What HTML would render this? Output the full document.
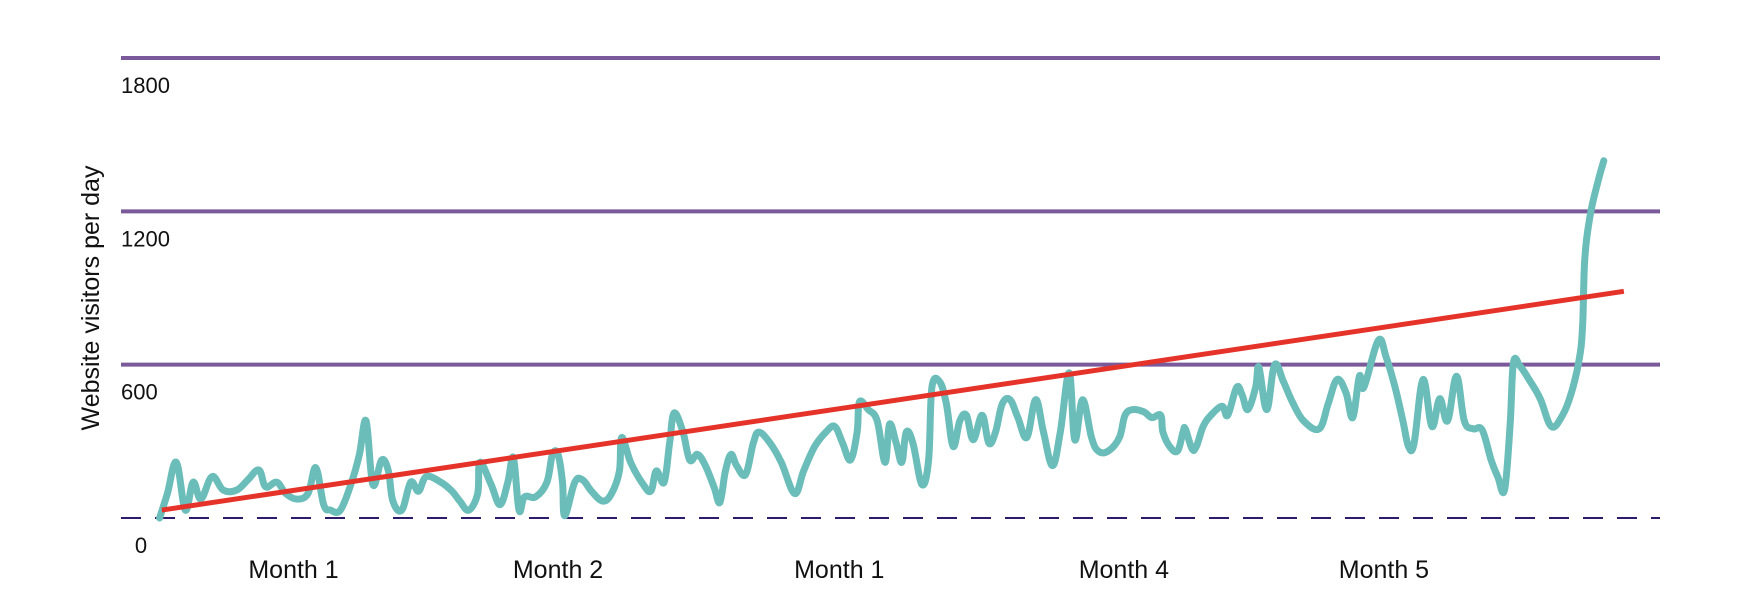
<!DOCTYPE html>
<html><head><meta charset="utf-8"><style>
html,body{margin:0;padding:0;background:#fff;width:1750px;height:610px;overflow:hidden}
svg{display:block;font-family:"Liberation Sans",sans-serif}
</style></head><body>
<svg id="chart" width="1750" height="610" viewBox="0 0 1750 610" xmlns="http://www.w3.org/2000/svg">
<g id="grid"></g>
<g id="ylabels"></g>
<g id="xlabels"></g>
<text transform="translate(99,298) rotate(-90)" text-anchor="middle" font-size="25" fill="#111">Website visitors per day</text>
<g id="series"></g>
</svg>
<script>
const yTicks=[0,600,1200,1800];
const yTickLabels=["0","600","1200","1800"];
const monthPos=[263,500,752,1007,1240];
const monthLabels=["Month 1","Month 2","Month 1","Month 4","Month 5"];
const t=[143,150,158,166,173,180,190,200,212,222,232,238,248,256,266,276,283,290,296,305,315,322,328,334,342,348,352,360,368,375,382,395,405,412,420,428,430,440,448,455,460,465,470,480,490,495,500,504,506,515,522,530,540,548,555,557,565,575,583,588,595,600,604,612,618,625,632,640,645,650,655,660,668,675,680,690,700,712,720,730,740,748,755,762,768,770,778,786,793,797,803,808,812,818,826,832,835,842,848,854,860,866,872,880,886,892,898,905,912,920,928,935,943,950,958,963,970,978,984,993,1003,1008,1015,1025,1032,1040,1042,1048,1055,1060,1062,1068,1072,1078,1085,1095,1100,1108,1113,1118,1125,1128,1135,1142,1150,1158,1168,1182,1190,1198,1206,1212,1218,1222,1235,1242,1250,1257,1262,1267,1275,1283,1290,1297,1305,1312,1320,1328,1336,1342,1348,1353,1356,1362,1370,1380,1390,1400,1408,1415,1418,1420,1425,1432,1437];
const visitors=[0,96,218,31,140,74,162,109,109,149,188,122,140,96,74,96,197,52,31,31,140,249,380,131,227,184,66,31,140,105,162,140,105,66,31,96,218,131,52,140,236,31,83,83,140,249,249,140,9,140,149,105,66,96,184,315,218,140,105,184,140,293,411,336,227,249,205,118,61,184,249,205,170,293,336,293,218,96,184,280,336,358,293,227,336,454,424,380,218,367,293,218,336,293,131,227,511,533,446,280,380,402,306,402,293,336,446,463,393,315,463,336,205,336,568,306,463,315,262,262,315,402,424,415,393,402,336,280,262,336,349,271,280,358,402,437,402,511,481,424,511,590,424,599,533,454,380,349,446,542,490,393,555,511,695,629,511,380,280,293,542,358,467,380,555,380,349,345,227,161,109,358,607,594,542,467,358,402,490,621,752,1014,1189,1320,1398];
const trendT=[145,1455];
const trendV=[31,887];
const NS="http://www.w3.org/2000/svg";
const xs=v=>v*1750/1568;
const ys=v=>518-v*(460/1800);
function mk(tag,at,parent){const e=document.createElementNS(NS,tag);for(const k in at)e.setAttribute(k,at[k]);parent.appendChild(e);return e;}
const grid=document.getElementById('grid'),yl=document.getElementById('ylabels'),xl=document.getElementById('xlabels'),se=document.getElementById('series');
yTicks.forEach((v,i)=>{
  let l;
  if(v===0){l=mk('line',{x1:121,x2:1660,y1:ys(v),y2:ys(v),stroke:'#2e1a6b','stroke-width':2,'stroke-dasharray':'20 14'},grid);}
  else{l=mk('line',{x1:121,x2:1660,y1:ys(v),y2:ys(v),stroke:'#7a5a9a','stroke-width':4},grid);}
  
  
  const tx=mk('text',{x:v===0?141:121,y:ys(v)+35,'font-size':22,fill:'#111','text-anchor':v===0?'middle':'start'},yl);
  tx.textContent=yTickLabels[i];
  
  
});
monthLabels.forEach((m,i)=>{
  const tx=mk('text',{x:xs(monthPos[i]),y:578,'font-size':25,fill:'#111','text-anchor':'middle'},xl);
  tx.textContent=m;
  
  
});
const pts=t.map((tt,i)=>[xs(tt),ys(visitors[i])]);
let d='M'+pts[0][0].toFixed(1)+','+pts[0][1].toFixed(1);
const k=0.18;
for(let i=0;i<pts.length-1;i++){
  const p0=pts[Math.max(0,i-1)],p1=pts[i],p2=pts[i+1],p3=pts[Math.min(pts.length-1,i+2)];
  const c1=[p1[0]+(p2[0]-p0[0])*k,p1[1]+(p2[1]-p0[1])*k];
  const c2=[p2[0]-(p3[0]-p1[0])*k,p2[1]-(p3[1]-p1[1])*k];
  d+=' C'+c1[0].toFixed(1)+','+c1[1].toFixed(1)+' '+c2[0].toFixed(1)+','+c2[1].toFixed(1)+' '+p2[0].toFixed(1)+','+p2[1].toFixed(1);
}
const p=mk('path',{d:d,fill:'none',stroke:'#6bbdba','stroke-width':7,'stroke-linejoin':'round','stroke-linecap':'round'},se);


const tr=mk('line',{x1:xs(trendT[0]),y1:ys(trendV[0]),x2:xs(trendT[1]),y2:ys(trendV[1]),stroke:'#e5332a','stroke-width':5},se);


</script>
</body></html>
